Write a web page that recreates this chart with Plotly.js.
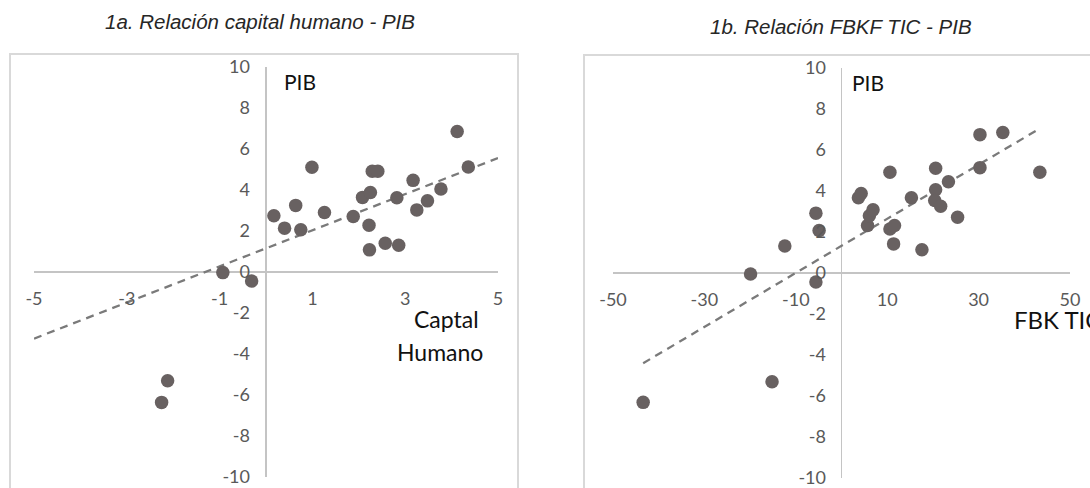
<!DOCTYPE html>
<html>
<head>
<meta charset="utf-8">
<script src="https://cdn.plot.ly/plotly-3.0.1.min.js"></script>
<style>
  html, body { margin: 0; padding: 0; background: #ffffff; }
  #chart { width: 1090px; height: 488px; }
</style>
</head>
<body>
<div id="chart"></div>
<script>
// ---- Panel 1a: capital humano vs PIB ----
const humanCapital = [-0.93, -0.31, -2.12, -2.25, 0.17, 0.40, 0.64, 0.75, 0.99, 1.26, 1.88, 2.08, 2.25, 2.22, 2.23, 2.29, 2.41, 2.57, 2.82, 2.86, 3.17, 3.25, 3.48, 3.77, 4.12, 4.36];
const gdpA         = [-0.03, -0.44, -5.30, -6.36, 2.74, 2.14, 3.25, 2.06, 5.11, 2.90, 2.71, 3.64, 3.88, 2.28, 1.08, 4.91, 4.91, 1.40, 3.62, 1.31, 4.47, 3.03, 3.47, 4.05, 6.85, 5.12];
const trendAX = [-5.0, 5.0];
const trendAY = [-3.25, 5.56];

// ---- Panel 1b: FBKF TIC vs PIB ----
const ictInvestment = [-43.4, -15.2, -19.9, -12.4, -5.6, -4.9, -5.6, 3.7, 4.3, 5.7, 6.1, 6.9, 10.6, 10.6, 11.6, 11.4, 15.3, 17.6, 20.6, 20.6, 20.4, 21.7, 23.4, 25.4, 30.3, 30.3, 35.3, 43.4];
const gdpB          = [-6.31, -5.30, -0.05, 1.32, 2.92, 2.07, -0.44, 3.67, 3.88, 2.32, 2.79, 3.08, 4.91, 2.15, 2.32, 1.42, 3.67, 1.13, 5.11, 4.06, 3.54, 3.26, 4.45, 2.72, 6.75, 5.14, 6.85, 4.91];
const trendBX = [-43.4, 43.1];
const trendBY = [-4.40, 7.01];

// ---- Tick labels ----
const xTicksA = [-5, -3, -1, 1, 3, 5];
const xTicksB = [-50, -30, -10, 10, 30, 50];
const yTicks  = [-10, -8, -6, -4, -2, 0, 2, 4, 6, 8, 10];

// ---- Text ----
const titleA = '1a. Relación capital humano - PIB';
const titleB = '1b. Relación FBKF TIC - PIB';
const yLabel = 'PIB';
const xLabelA1 = 'Captal';
const xLabelA2 = 'Humano';
const xLabelB = 'FBK TIC';

const W = 1090, H = 488;
const px = v => v / W;
const py = v => 1 - v / H;

const markerStyle = { color: '#686161', size: 13.5 };
const trendStyle = { color: '#7a7a7a', width: 2.3, dash: '8px,6px' };

const traces = [
  { type: 'scatter', mode: 'lines', x: trendAX, y: trendAY, xaxis: 'x', yaxis: 'y', line: trendStyle, hoverinfo: 'skip' },
  { type: 'scatter', mode: 'markers', x: humanCapital, y: gdpA, xaxis: 'x', yaxis: 'y', marker: markerStyle },
  { type: 'scatter', mode: 'lines', x: trendBX, y: trendBY, xaxis: 'x2', yaxis: 'y2', line: trendStyle, hoverinfo: 'skip' },
  { type: 'scatter', mode: 'markers', x: ictInvestment, y: gdpB, xaxis: 'x2', yaxis: 'y2', marker: markerStyle }
];

const tickFont = { family: 'Lato, Carlito, sans-serif', size: 18, color: '#595959' };
const labelFont = { family: 'Lato, Carlito, sans-serif', size: 21, color: '#111111' };
const titleFont = { family: '"Liberation Sans", Arial, sans-serif', size: 20.5, color: '#262626', style: 'italic' };

function xAxis(domain, range, ticks, pos) {
  return {
    domain: domain, range: range, anchor: 'free', position: pos,
    showgrid: false, showline: false, ticks: '',
    zeroline: true, zerolinecolor: '#c4c4c4', zerolinewidth: 1.6,
    tickmode: 'array', tickvals: ticks, ticktext: ticks.map(String),
    tickfont: tickFont, ticklabelstandoff: 14, ticklabeloverflow: 'allow', fixedrange: true
  };
}
function yAxis(domain, range, ticks, pos) {
  return {
    domain: domain, range: range, anchor: 'free', position: pos,
    showgrid: false, showline: false, ticks: '',
    zeroline: true, zerolinecolor: '#c4c4c4', zerolinewidth: 1.6,
    tickmode: 'array', tickvals: ticks, ticktext: ticks.map(String),
    tickfont: tickFont, ticklabelstandoff: 16, ticklabeloverflow: 'allow', fixedrange: true
  };
}

const layout = {
  width: W, height: H,
  margin: { l: 0, r: 0, t: 0, b: 0, pad: 0 },
  paper_bgcolor: '#ffffff', plot_bgcolor: 'rgba(0,0,0,0)',
  showlegend: false,
  xaxis:  xAxis([px(34), px(498)], [-5, 5], xTicksA, py(272)),
  yaxis:  yAxis([py(477), py(67)], [-10, 10], yTicks, px(266)),
  xaxis2: xAxis([px(613), px(1070)], [-50, 50], xTicksB, py(273)),
  yaxis2: yAxis([py(478), py(68)], [-10, 10], yTicks, px(842)),
  shapes: [
    { type: 'rect', xref: 'paper', yref: 'paper', x0: px(10), x1: px(518), y0: -0.1, y1: py(54), line: { color: '#d9d9d9', width: 2 }, layer: 'below' },
    { type: 'rect', xref: 'paper', yref: 'paper', x0: px(584), x1: 1.1, y0: -0.1, y1: py(55), line: { color: '#d9d9d9', width: 2 }, layer: 'below' }
  ],
  annotations: [
    { xref: 'paper', yref: 'paper', x: px(260), y: py(21), text: titleA, showarrow: false, xanchor: 'center', yanchor: 'middle', font: titleFont },
    { xref: 'paper', yref: 'paper', x: px(841), y: py(27), text: titleB, showarrow: false, xanchor: 'center', yanchor: 'middle', font: titleFont },
    { xref: 'x', yref: 'y', x: 0.34, y: 9.27, text: yLabel, showarrow: false, xanchor: 'left', yanchor: 'middle', font: labelFont },
    { xref: 'x2', yref: 'y2', x: 1.9, y: 9.3, text: yLabel, showarrow: false, xanchor: 'left', yanchor: 'middle', font: labelFont },
    { xref: 'x', yref: 'y', x: 3.88, y: -2.29, text: xLabelA1, showarrow: false, xanchor: 'center', yanchor: 'middle', font: Object.assign({}, labelFont, { size: 23 }) },
    { xref: 'x', yref: 'y', x: 3.75, y: -3.90, text: xLabelA2, showarrow: false, xanchor: 'center', yanchor: 'middle', font: Object.assign({}, labelFont, { size: 23 }) },
    { xref: 'x2', yref: 'y2', x: 37.3, y: -2.25, text: xLabelB, showarrow: false, xanchor: 'left', yanchor: 'middle', font: Object.assign({}, labelFont, { size: 24 }) }
  ]
};

Plotly.newPlot('chart', traces, layout, { displayModeBar: false, staticPlot: true });
</script>
</body>
</html>
